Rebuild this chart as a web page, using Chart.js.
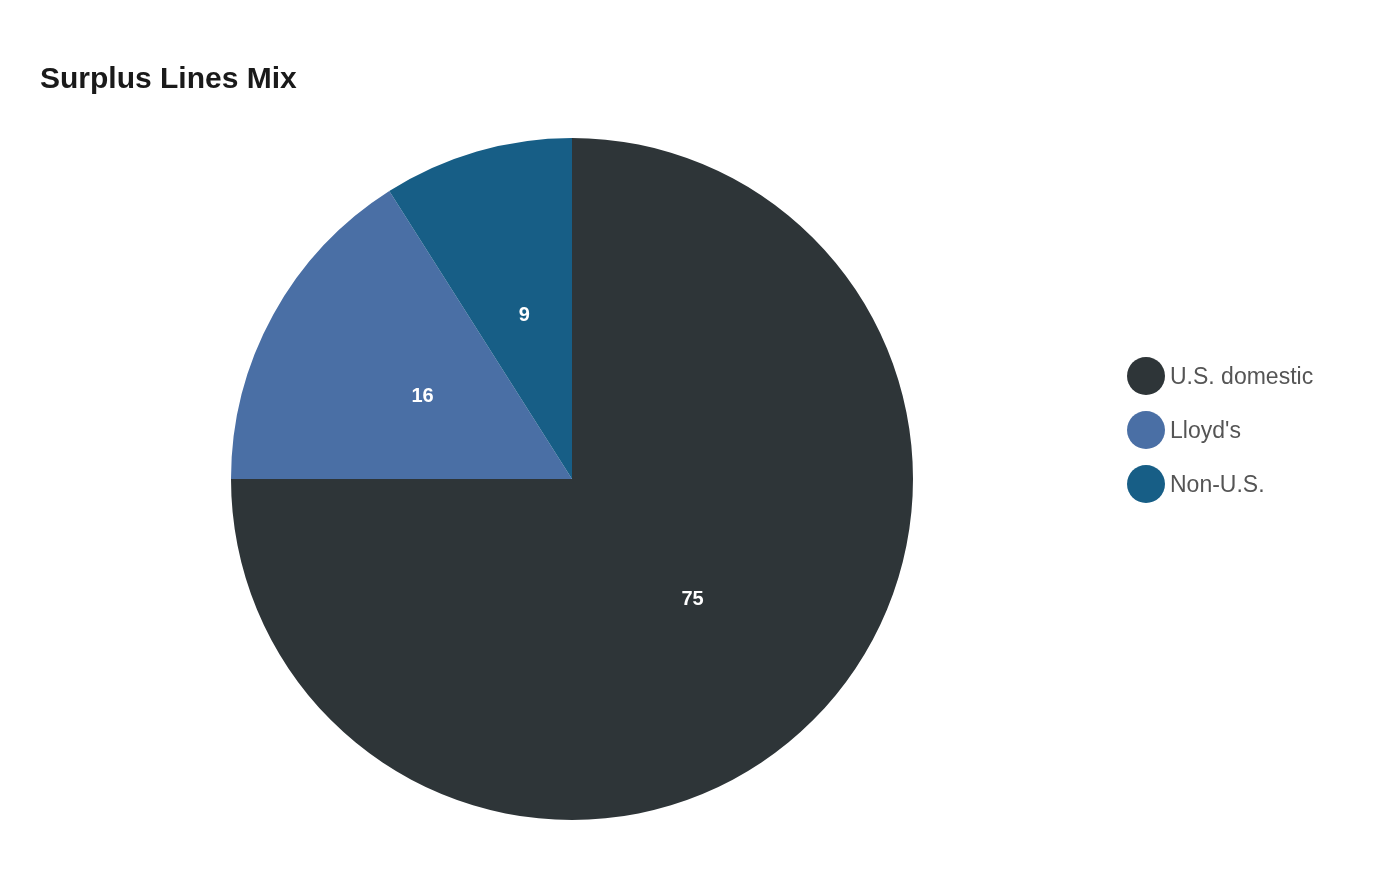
<!DOCTYPE html>
<html><head><meta charset="utf-8">
<script src="https://cdn.jsdelivr.net/npm/chart.js@4"></script>
<style>
body{margin:0;background:#fff;font-family:"Liberation Sans",Arial,sans-serif;}
#wrap{position:absolute;left:0;top:0;width:1400px;height:880px;}
#title{position:absolute;left:40px;top:61px;font-size:30px;font-weight:bold;color:#1a1a1a;}
#legend{position:absolute;left:1127px;top:357px;}
.item{display:flex;align-items:center;height:38px;margin-bottom:16px;font-size:23px;color:#555;}
.dot{width:38px;height:38px;border-radius:50%;margin-right:5px;}
</style></head><body>
<div id="wrap"><canvas id="c" width="1400" height="880"></canvas></div>
<div id="title">Surplus Lines Mix</div>
<div id="legend"></div>
<script>
const categories = ["U.S. domestic", "Lloyd's", "Non-U.S."];
const values = [75, 16, 9];
const colors = ["#2e3538", "#4a6fa5", "#175e86"];
const lg = document.getElementById('legend');
categories.forEach((c,i)=>{lg.innerHTML+=`<div class="item"><div class="dot" style="background:${colors[i]}"></div>${c}</div>`;});
const labelPlugin={id:'lbl',afterDatasetsDraw(chart){
 const ctx=chart.ctx;const meta=chart.getDatasetMeta(0);
 ctx.save();ctx.fillStyle='#fff';ctx.font='bold 20px "Liberation Sans", Arial';ctx.textAlign='center';ctx.textBaseline='middle';
 meta.data.forEach((a,i)=>{const m=(a.startAngle+a.endAngle)/2;const r=a.outerRadius/2;
  ctx.fillText(String(values[i]),a.x+Math.cos(m)*r,a.y+Math.sin(m)*r);});
 ctx.restore();}};
new Chart(document.getElementById('c'),{type:'pie',
 data:{labels:categories,datasets:[{data:values,backgroundColor:colors,borderWidth:0}]},
 options:{responsive:false,animation:false,layout:{padding:{top:138,bottom:60,left:231,right:487}},
  plugins:{legend:{display:false},tooltip:{enabled:false}}},
 plugins:[labelPlugin]});
</script></body></html>
